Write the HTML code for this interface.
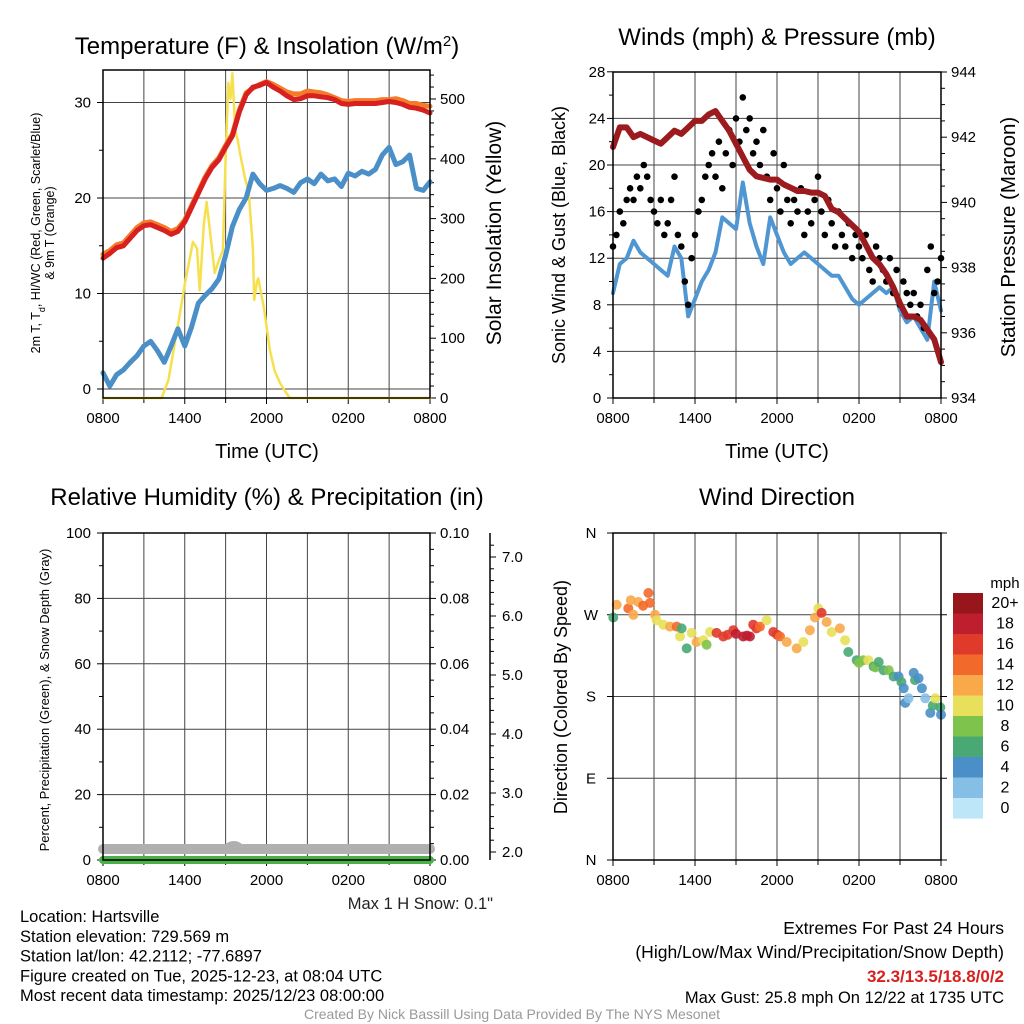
<!DOCTYPE html>
<html><head><meta charset="utf-8">
<style>
html,body{margin:0;padding:0;background:#fff;}
svg{display:block;font-family:"Liberation Sans",Arial,sans-serif;}
</style></head>
<body>
<svg id="c" width="1024" height="1024" viewBox="0 0 1024 1024" xmlns="http://www.w3.org/2000/svg">
<rect width="1024" height="1024" fill="#fff"/>
</svg>
<script>
// ---------- DATA ----------
const halfHours = Array.from({length:49},(_,i)=>i*0.5);
const timeTickLabels = ["0800","1400","2000","0200","0800"];
const temp2m = [13.7,14.2,14.8,15.0,15.8,16.6,17.1,17.2,16.9,16.6,16.2,16.5,17.5,19.0,20.5,22.0,23.2,24.0,25.3,26.5,29.0,30.8,31.6,31.8,32.1,31.6,31.2,30.7,30.3,30.4,30.7,30.7,30.6,30.5,30.3,29.9,29.8,29.9,29.9,29.9,29.9,30.0,30.1,30.0,29.8,29.5,29.4,29.2,28.9];
const temp9m = [14.1,14.5,15.1,15.3,16.1,16.9,17.4,17.5,17.2,16.9,16.5,16.8,17.7,19.2,20.7,22.2,23.4,24.2,25.5,26.7,29.2,31.0,31.5,31.9,32.2,31.9,31.5,31.1,30.9,30.9,31.2,31.1,31.0,30.8,30.5,30.2,30.1,30.2,30.2,30.2,30.2,30.3,30.3,30.4,30.2,29.9,29.9,29.7,29.6];
const dewpoint = [1.7,0.3,1.5,2.0,2.8,3.5,4.5,5.0,4.0,2.8,4.5,6.3,4.5,6.5,9.0,9.8,10.5,11.5,14.0,17.0,18.8,20.0,22.5,21.5,20.8,21.0,21.3,21.0,20.6,21.6,22.0,21.5,22.5,21.8,22.0,21.2,22.6,22.3,22.8,22.5,23.0,24.5,25.3,23.5,23.8,24.5,21.0,20.8,21.7];
const insolHours = [0,4.3,4.8,5.4,6.0,6.6,6.9,7.1,7.4,7.6,7.9,8.2,8.5,8.8,9.0,9.2,9.35,9.5,9.7,9.9,10.05,10.4,10.7,11.0,11.1,11.3,11.4,11.6,11.8,12.25,12.6,13.0,13.4,13.7,24];
const insolValues = [0,0,30,109,190,261,250,180,290,328,270,209,230,247,400,527,500,543,448,430,410,370,343,250,164,195,200,175,152,80,45,25,10,0,0];
const tempTicks = [0,10,20,30];
const insolTicks = [0,100,200,300,400,500];

const windSpeed = [9.0,11.5,12.0,13.5,12.5,12.0,11.5,11.0,10.5,13.0,12.0,7.0,8.5,10.0,11.0,12.5,15.5,15.0,14.5,18.5,15.0,13.0,11.5,15.5,14.0,12.5,11.5,12.0,12.5,12.0,11.5,11.0,10.5,10.5,9.5,8.5,8.0,8.5,9.0,9.5,9.0,9.5,7.5,6.5,7.0,6.0,5.0,10.0,7.5];
const gustHours = Array.from({length:97},(_,i)=>i*0.25);
const gustSpeed = [13,14,16,15,17,18,17,19,18,20,19,17,16,15,17,14,15,17,19,14,13,10,8,12,14,16,17,19,20,21,19,22,18,21,23,20,24,22,25.8,23,24,21,22,20,23,19,17,21,18,16,20,17,15,17,16,18,14,16,15,17,19,16,14,17,15,13,16,14,13,15,12,14,13,12,14,11,10,13,12,11,10,12,9,11,8,10,9,8,9,7,8,6,11,13,9,10,12];
const pressure = [941.7,942.3,942.3,942.0,942.1,942.0,941.9,941.8,942.0,942.2,942.1,942.3,942.5,942.5,942.7,942.8,942.5,942.2,941.8,941.4,941.0,940.8,940.75,940.7,940.7,940.55,940.45,940.35,940.35,940.3,940.3,940.2,939.8,939.7,939.5,939.3,939.1,938.7,938.3,938.1,937.8,937.4,936.9,936.5,936.5,936.4,936.1,935.8,935.1];
const windTicks = [0,4,8,12,16,20,24,28];
const pressTicks = [934,936,938,940,942,944];

const rhValues = Array.from({length:49},()=>0);
const snowValues = [2,2,2,2,2,2,2,2,2,2,2,2,2,2,2,2,2,2,2,2,2,2,2,2,2,2,2,2,2,2,2,2,2,2,2,2,2,2,2,2,2,2,2,2,2,2,2,2,2];
const rhTicks = [0,20,40,60,80,100];
const precipTicks = ["0.00","0.02","0.04","0.06","0.08","0.10"];
const snowTicks = ["2.0","3.0","4.0","5.0","6.0","7.0"];

const dirHours = [0.02,0.27,1.12,1.3,1.49,1.85,2.2,2.59,2.71,3.07,3.19,3.68,4.17,4.66,4.9,5.02,5.39,5.76,6.12,6.61,6.85,7.1,7.58,8.07,8.4,8.8,9.0,9.53,9.8,10.02,10.26,10.5,10.75,11.24,11.73,12.0,12.22,12.71,13.44,13.93,14.41,14.78,15.02,15.26,15.63,16.0,16.6,16.98,17.22,17.83,18.0,18.31,18.68,19.07,19.2,19.44,19.8,20.17,20.53,20.9,21.1,21.27,21.39,21.63,22.0,22.1,22.36,22.6,22.85,23.22,23.4,23.58,23.95,24.0];
const dirDegrees = [267,281,277,286,270,284,280,294,283,270,264,259,257,257,246,255,233,250,240,242,237,251,250,246,248,253,249,246,247,246,259,255,257,264,251,248,246,240,233,240,253,267,277,272,262,251,255,242,229,220,217,220,220,213,212,218,209,209,202,202,196,189,173,178,206,198,200,189,178,162,170,178,168,160];
const dirSpeeds = [7,12,14,13,12,13,14,15,14,12,10,10,12,14,10,7,7,10,12,10,9,10,16,17,17,17,18,19,19,19,16,17,15,10,16,16,15,13,12,10,12,12,10,16,13,10,12,10,7,7,8,8.5,10,7,8,7,7,9,7,5,6,5,5,3.5,5,6,5,5,3.5,5,6,10,7,5];
const dirTickLabels = ["N","E","S","W","N"];
const speedBinLabels = ["20+","18","16","14","12","10","8","6","4","2","0"];
const speedBinColors = ["#96161b","#be1e2d","#e03a2b","#f26a2b","#f9a94a","#e8e05a","#7ec34c","#4aa874","#4a8fc7","#86bfe6","#bde6f9"];

// ---------- HELPERS ----------
const svg = document.getElementById('c');
const NS = 'http://www.w3.org/2000/svg';
function mk(tag, attrs, name, parent){
  const el = document.createElementNS(NS, tag);
  for (const k in attrs) el.setAttribute(k, attrs[k]);
  
  
  (parent||svg).appendChild(el);
  return el;
}
function txt(x,y,s,size,name,opt){
  opt=opt||{};
  const el = mk('text',{x:x,y:y,'font-size':size,'text-anchor':opt.anchor||'middle',fill:opt.fill||'#000'},name);
  if(opt.weight) el.setAttribute('font-weight',opt.weight);
  if(opt.rot!==undefined) el.setAttribute('transform','rotate('+opt.rot+' '+x+' '+y+')');
  el.textContent = s;
  return el;
}
function line(x1,y1,x2,y2,name,stroke,w){
  return mk('line',{x1:x1,y1:y1,x2:x2,y2:y2,stroke:stroke||'#000','stroke-width':w||1},name);
}
function poly(xs,ys,xf,yf,name,stroke,w){
  let d='';
  for(let i=0;i<xs.length;i++) d+=(i?'L':'M')+xf(xs[i]).toFixed(1)+','+yf(ys[i]).toFixed(1);
  return mk('path',{d:d,fill:'none',stroke:stroke,'stroke-width':w,'stroke-linejoin':'round','stroke-linecap':'round'},name);
}
const TICK=15;
function timeAxis(x0,x1,yb,gTop,panel){
  const xf=h=>x0+h/24*(x1-x0);
  for(let h=3;h<24;h+=3) line(xf(h),gTop,xf(h),yb,panel+'-vgrid','#444',1);
  for(let h=0;h<=24;h+=3){
    line(xf(h),yb,xf(h),yb+(h%6===0?6:5),panel+'-x-tick');
  }
  timeTickLabels.forEach((l,i)=>txt(xf(i*6),yb+25,l,TICK,panel+'-x-tick-label'));
  return xf;
}
function frame(x0,y0,x1,y1,name){
  mk('rect',{x:x0,y:y0,width:x1-x0,height:y1-y0,fill:'none',stroke:'#000','stroke-width':1.5},name);
}

// ---------- PANEL 1 ----------
(function(){
  const x0=103,x1=430,yT=70,yB=398;
  const yf=v=>389-v*9.55;
  const yi=v=>398-v*0.598;
  const xf=timeAxis(x0,x1,yB,yT,'temp');
  tempTicks.forEach(v=>{line(x0,yf(v),x1,yf(v),'temp-hgrid','#444',1);line(x0-6,yf(v),x0,yf(v),'temp-y-tick');txt(x0-12,yf(v)+5,String(v),TICK,'temp-y-tick-label',{anchor:'end'});});
  for(let v=5;v<35;v+=10){ line(x0-4,yf(v),x0,yf(v),'temp-y-minor-tick'); }
  insolTicks.forEach(v=>{line(x1,yi(v),x1+6,yi(v),'insol-y-tick');txt(x1+10,yi(v)+5,String(v),TICK,'insol-y-tick-label',{anchor:'start'});});
  for(let v=20;v<550;v+=20){ if(v%100) line(x1,yi(v),x1+4,yi(v),'insol-y-minor-tick'); }
  poly(insolHours,insolValues,xf,yi,'insolation-line','#f7e04e',2.5);
  poly(halfHours,dewpoint,xf,yf,'dewpoint-line','#4a8fc7',5);
  poly(halfHours,temp9m,xf,yf,'temp-9m-line','#f47b2a',5);
  poly(halfHours,temp2m,xf,yf,'temp-2m-line','#d7201f',5);
  frame(x0,yT,x1,yB,'temp-plot-frame');
  const t=txt(267,54,'Temperature (F) & Insolation (W/m',24,'temp-title');
  const sup=document.createElementNS(NS,'tspan');sup.setAttribute('baseline-shift','super');sup.setAttribute('font-size','15');sup.textContent='2';t.appendChild(sup);
  const cl=document.createElementNS(NS,'tspan');cl.textContent=')';t.appendChild(cl);
  txt(267,458,'Time (UTC)',20,'temp-x-axis-title');
  const yl=txt(40,233,'2m T, T',12.5,'temp-y-axis-title',{rot:-90});
  const sub=document.createElementNS(NS,'tspan');sub.setAttribute('baseline-shift','sub');sub.setAttribute('font-size','9');sub.textContent='d';yl.appendChild(sub);
  const r=document.createElementNS(NS,'tspan');r.setAttribute('baseline-shift','0');r.textContent=', HI/WC (Red, Green, Scarlet/Blue)';yl.appendChild(r);
  txt(54,233,'& 9m T (Orange)',12.5,'temp-y-axis-title-line2',{rot:-90});
  txt(501,233,'Solar Insolation (Yellow)',21,'insol-y-axis-title',{rot:-90});
})();

// ---------- PANEL 2 ----------
(function(){
  const x0=613,x1=941,yT=72,yB=398;
  const yw=v=>398-v*11.65;
  const yp=v=>398-(v-934)*32.6;
  const xf=timeAxis(x0,x1,yB,yT,'wind');
  windTicks.forEach(v=>{ if(v>0&&v<28) line(x0,yw(v),x1,yw(v),'wind-hgrid','#444',1); line(x0-6,yw(v),x0,yw(v),'wind-y-tick'); txt(x0-16,yw(v)+5,String(v),TICK,'wind-y-tick-label',{anchor:'middle'});});
  for(let v=2;v<28;v+=4) line(x0-4,yw(v),x0,yw(v),'wind-y-minor-tick');
  pressTicks.forEach(v=>{line(x1,yp(v),x1+6,yp(v),'press-y-tick');txt(x1+10,yp(v)+5,String(v),TICK,'press-y-tick-label',{anchor:'start'});});
  for(let v=934.5;v<944;v+=0.5){ if(v%2) line(x1,yp(v),x1+4,yp(v),'press-y-minor-tick'); }
  poly(halfHours,windSpeed,xf,yw,'sustained-wind-line','#4f96d2',4);
  gustHours.forEach((h,i)=>{
    mk('circle',{cx:xf(h).toFixed(1),cy:yw(gustSpeed[i]).toFixed(1),r:3.3,fill:'#000'},'gust-point');
  });
  poly(halfHours,pressure,xf,yp,'pressure-line','#9b1b1e',6);
  frame(x0,yT,x1,yB,'wind-plot-frame');
  txt(777,45,'Winds (mph) & Pressure (mb)',24,'wind-title');
  txt(777,458,'Time (UTC)',20,'wind-x-axis-title');
  txt(565,235,'Sonic Wind & Gust (Blue, Black)',18,'wind-y-axis-title',{rot:-90});
  txt(1015,237,'Station Pressure (Maroon)',20.5,'press-y-axis-title',{rot:-90});
})();

// ---------- PANEL 3 ----------
(function(){
  const x0=103,x1=430,yT=533,yB=860;
  const yr=v=>860-v*3.27;
  const ys=v=>852-(v-2)*59;
  const xf=timeAxis(x0,x1,yB,yT,'rh');
  rhTicks.forEach(v=>{ if(v>0&&v<100) line(x0,yr(v),x1,yr(v),'rh-hgrid','#444',1); line(x0-6,yr(v),x0,yr(v),'rh-y-tick'); txt(x0-12,yr(v)+5,String(v),TICK,'rh-y-tick-label',{anchor:'end'});});
  for(let v=10;v<100;v+=20) line(x0-4,yr(v),x0,yr(v),'rh-y-minor-tick');
  precipTicks.forEach((l,i)=>{const y=yr(i*20);line(x1,y,x1+6,y,'precip-y-tick');txt(x1+10,y+5,l,TICK,'precip-y-tick-label',{anchor:'start'});});
  for(let v=5;v<100;v+=5){ if(v%20) line(x1,yr(v),x1+4,yr(v),'precip-y-minor-tick'); }
  line(490,533,490,860,'snow-axis-line','#000',1.5);
  snowTicks.forEach((l,i)=>{const y=ys(2+i);line(490,y,496,y,'snow-y-tick');txt(502,y+5,l,TICK,'snow-y-tick-label',{anchor:'start'});});
  for(let v=1.8;v<7.4;v+=0.2){ const y=ys(v); if(y>533&&y<860) line(490,y,494,y,'snow-y-minor-tick'); }
  poly(halfHours,snowValues,xf,v=>ys(v)-3,'snow-depth-line','#b0b0b0',10);
  mk('ellipse',{cx:xf(9.6),cy:847,rx:9,ry:6,fill:'#b0b0b0'},'snow-depth-bump');
  poly(halfHours,rhValues,xf,yr,'rh-precip-line','#4cb04a',8);
  frame(x0,yT,x1,yB,'rh-plot-frame');
  txt(267,505,'Relative Humidity (%) & Precipitation (in)',24,'rh-title');
  txt(49,700,'Percent, Precipitation (Green), & Snow Depth (Gray)',13,'rh-y-axis-title',{rot:-90});
  txt(493,909,'Max 1 H Snow: 0.1"',16.5,'max-snow-label',{anchor:'end',fill:'#222'});
})();

// ---------- PANEL 4 ----------
(function(){
  const x0=613,x1=941,yT=533,yB=860;
  const yd=v=>860-v*327/360;
  const xf=timeAxis(x0,x1,yB,yT,'dir');
  dirTickLabels.forEach((l,i)=>{const y=yd(i*90); if(i>0&&i<4) line(x0,y,x1,y,'dir-hgrid','#444',1); line(x0-6,y,x0,y,'dir-y-tick'); line(x1,y,x1+6,y,'dir-y-tick-right'); txt(x0-22,y+5,l,TICK,'dir-y-tick-label');});
  function col(s){ let i=Math.floor(s/2); if(i>10) i=10; if(i<0)i=0; return speedBinColors[10-i]; }
  dirHours.forEach((h,i)=>{
    mk('circle',{cx:xf(h).toFixed(1),cy:yd(dirDegrees[i]).toFixed(1),r:5,fill:col(dirSpeeds[i]),'fill-opacity':0.9},'direction-point');
  });
  frame(x0,yT,x1,yB,'dir-plot-frame');
  txt(777,505,'Wind Direction',24,'dir-title');
  txt(567,697,'Direction (Colored By Speed)',18,'dir-y-axis-title',{rot:-90});
  txt(1005,588,'mph',15,'colorbar-title');
  speedBinLabels.forEach((l,i)=>{
    mk('rect',{x:953,y:(593+i*20.5).toFixed(1),width:30,height:20.6,fill:speedBinColors[i]},'colorbar-box');
    txt(1005,598+i*20.5+10,l,16,'colorbar-label');
  });
})();

// ---------- FOOTER ----------
["Location: Hartsville","Station elevation: 729.569 m","Station lat/lon: 42.2112; -77.6897","Figure created on Tue, 2025-12-23, at 08:04 UTC","Most recent data timestamp: 2025/12/23 08:00:00"].forEach((s,i)=>txt(20,922+i*19.8,s,16.5,'station-info-line',{anchor:'start'}));
txt(1004,934,'Extremes For Past 24 Hours',17.5,'extremes-title',{anchor:'end'});
txt(1004,958,'(High/Low/Max Wind/Precipitation/Snow Depth)',17.5,'extremes-subtitle',{anchor:'end'});
txt(1004,982,'32.3/13.5/18.8/0/2',17,'extremes-values',{anchor:'end',fill:'#d7201f',weight:'bold'});
txt(1004,1003,'Max Gust: 25.8 mph On 12/22 at 1735 UTC',16.5,'max-gust-label',{anchor:'end'});
txt(512,1019,'Created By Nick Bassill Using Data Provided By The NYS Mesonet',14,'credit-label',{fill:'#999'});
</script>
</body></html>
